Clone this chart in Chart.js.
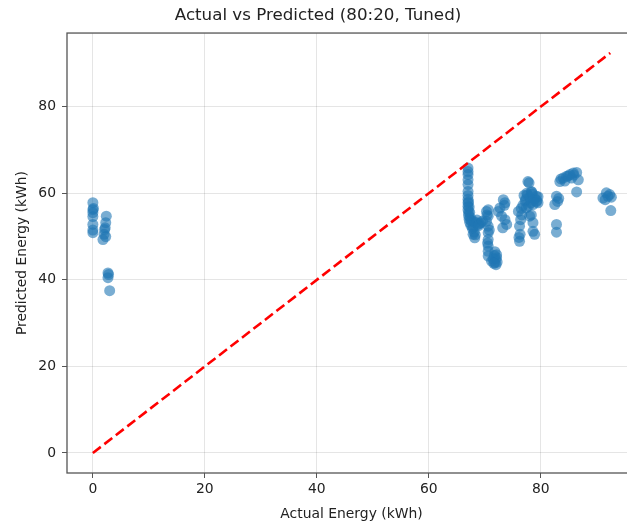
<!DOCTYPE html>
<html>
<head>
<meta charset="utf-8">
<script src="https://cdn.jsdelivr.net/npm/chart.js@4/dist/chart.umd.min.js"></script>
<style>
html,body{margin:0;padding:0;background:#fff;overflow:hidden;}
#wrap{width:703px;height:524px;}
</style>
</head>
<body>
<div id="wrap"><canvas id="c" width="703" height="524"></canvas></div>
<script>
const titleText = "Actual vs Predicted (80:20, Tuned)";
const xLabel = "Actual Energy (kWh)";
const yLabel = "Predicted Energy (kWh)";
const tickValues = [0, 20, 40, 60, 80];
const axisMin = -4.62;
const axisMax = 97.0;
const diagX = [0, 92.4];
const diagY = [0, 92.4];

const actual = [
  0,0,0,0,0,0,0,0.1,
  2.4,2.3,2.1,2.0,1.8,2.2,2.3,
  2.7,2.8,2.7,3.0,
  67.0,67.0,67.0,67.0,67.0,67.0,67.0,67.0,67.0,67.0,67.0,67.1,67.1,67.2,67.3,67.5,67.8,68.1,68.3,68.0,68.6,69.0,69.3,67.9,68.2,68.8,
  67.1,67.2,67.3,67.4,67.6,67.9,68.4,68.9,69.6,
  70.6,70.6,70.3,70.6,70.6,70.6,70.6,70.6,70.6,71.2,71.8,72.1,71.8,72.0,71.9,70.3,72.1,
  70.5,70.8,70.4,71.5,71.7,72.2,71.6,
  73.3,73.6,72.7,72.4,73.0,73.6,73.9,73.2,73.5,
  76.0,76.4,76.2,76.3,76.2,76.6,76.1,
  77.7,78.3,79.2,79.5,78.6,77.4,78.0,78.6,78.6,78.9,77.9,
  77.0,77.5,78.0,78.5,79.0,79.5,77.2,78.2,79.2,76.8,77.8,76.5,78.3,
  77.3,78.7,79.3,77.6,78.4,
  82.8,83.0,82.5,83.2,82.8,82.8,
  83.4,83.6,84.0,84.6,85.2,85.8,86.4,85.5,84.3,86.7,86.4,84.9,85.9,
  91.1,91.7,92.3,92.6,91.5,92.0,92.5
];
const predicted = [
  57.8,56.2,55.5,54.6,52.8,51.5,50.9,56.5,
  54.7,53.2,51.6,50.5,49.3,52.0,50.0,
  41.6,41.2,40.5,37.5,
  65.8,65.0,64.3,63.1,62.0,60.4,59.5,58.6,57.8,57.0,56.2,55.5,54.8,54.0,53.3,52.6,51.8,51.0,50.4,53.5,53.8,53.0,53.2,50.5,49.7,52.8,
  58.0,56.8,55.6,54.4,53.6,52.2,53.2,52.5,53.6,
  56.2,54.7,53.5,52.4,50.9,49.3,47.8,46.6,45.5,44.3,44.0,45.1,46.5,43.5,44.8,55.8,45.8,
  48.5,51.5,55.0,44.8,45.6,44.1,43.8,
  58.5,57.8,56.6,55.8,54.7,53.9,52.8,52.0,57.2,
  55.8,53.9,52.4,50.5,48.9,55.0,49.8,
  62.7,60.4,59.3,57.8,57.4,56.6,54.7,53.2,51.2,50.5,62.4,
  59.5,60.0,59.0,59.8,58.7,59.2,58.2,57.8,58.0,57.2,57.0,56.5,55.0,
  58.6,58.4,58.3,59.6,60.2,
  59.3,58.1,57.4,58.8,52.8,51.0,
  62.7,63.3,63.5,63.9,64.3,64.7,64.8,63.5,62.8,63.1,60.3,64.0,64.2,
  58.9,60.1,59.7,59.1,58.5,59.3,56.0
];

const scatterPoints = actual.map((v, i) => ({x: v, y: predicted[i]}));
const diagPoints = diagX.map((v, i) => ({x: v, y: diagY[i]}));

const spineColor = '#555555';
const gridColor = 'rgba(0,0,0,0.10)';
const font = "'DejaVu Sans', sans-serif";

const framePlugin = {
  id: 'frame',
  afterDatasetsDraw(chart) {
    const {ctx, chartArea: a} = chart;
    ctx.save();
    ctx.strokeStyle = spineColor;
    ctx.lineWidth = 1.3;
    ctx.strokeRect(a.left, a.top, a.right - a.left, a.bottom - a.top);
    ctx.restore();
  }
};

function fixedTicks(scale) {
  scale.ticks = tickValues.map(v => ({value: v}));
}

new Chart(document.getElementById('c'), {
  data: {
    datasets: [
      {
        type: 'line',
        data: diagPoints,
        borderColor: '#ff0000',
        borderWidth: 2.6,
        borderDash: [10, 4.5],
        pointRadius: 0,
        fill: false,
        order: 0
      },
      {
        type: 'scatter',
        data: scatterPoints,
        backgroundColor: 'rgba(31,119,180,0.6)',
        borderColor: 'rgba(31,119,180,0.6)',
        borderWidth: 0,
        pointRadius: 5.5,
        order: 1
      }
    ]
  },
  options: {
    responsive: false,
    animation: false,
    layout: {padding: {left: 0, top: 0, right: 67, bottom: 0}},
    plugins: {
      legend: {display: false},
      tooltip: {enabled: false},
      title: {
        display: true,
        text: titleText,
        color: '#222',
        font: {family: font, size: 16.7, weight: 'normal'},
        padding: {top: 6, bottom: 7}
      }
    },
    scales: {
      x: {
        type: 'linear',
        min: axisMin,
        max: axisMax,
        afterBuildTicks: fixedTicks,
        afterFit(scale) { scale.height = 51; },
        grid: {color: gridColor, tickColor: spineColor, tickLength: 5, lineWidth: 1},
        border: {display: false},
        ticks: {color: '#222', font: {family: font, size: 13.9}, padding: 3, maxRotation: 0, autoSkip: false},
        title: {display: true, text: xLabel, color: '#222', font: {family: font, size: 13.9}, padding: {top: 0, bottom: 1.7}}
      },
      y: {
        type: 'linear',
        min: axisMin,
        max: axisMax,
        afterBuildTicks: fixedTicks,
        afterFit(scale) { scale.width = 67; },
        grid: {color: gridColor, tickColor: spineColor, tickLength: 5, lineWidth: 1},
        border: {display: false},
        ticks: {color: '#222', font: {family: font, size: 13.9}, padding: 6, autoSkip: false},
        title: {display: true, text: yLabel, color: '#222', font: {family: font, size: 13.9}, padding: {top: 13.7, bottom: 0}}
      }
    }
  },
  plugins: [framePlugin]
});
</script>
</body>
</html>
